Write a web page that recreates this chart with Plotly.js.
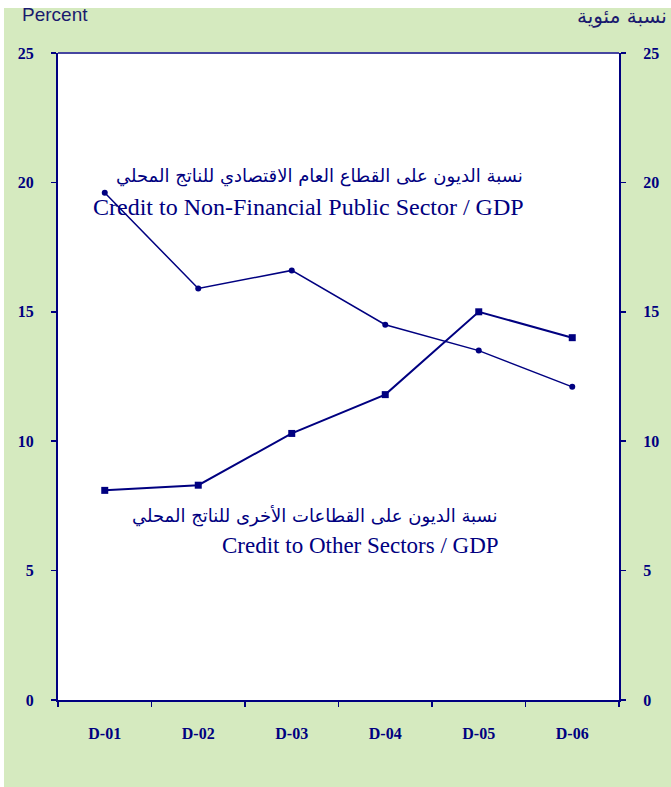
<!DOCTYPE html>
<html>
<head>
<meta charset="utf-8">
<script src="https://cdn.plot.ly/plotly-3.0.1.min.js"></script>
<style>html,body{margin:0;padding:0;background:#fff;}#chart{width:671px;height:787px;}</style>
</head>
<body>
<div id="chart"></div>
<script>
var categories = ["D-01", "D-02", "D-03", "D-04", "D-05", "D-06"];
var publicSector = [19.6, 15.9, 16.6, 14.5, 13.5, 12.1];
var otherSectors = [8.1, 8.3, 10.3, 11.8, 15.0, 14.0];
var yTicks = [0, 5, 10, 15, 20, 25];

var navy = "#000080";
var green = "#d5eabf";

var traces = [
  {
    x: categories, y: publicSector, type: "scatter", mode: "lines+markers",
    name: "Credit to Non-Financial Public Sector / GDP",
    line: {color: navy, width: 1.5},
    marker: {symbol: "circle", size: 6, color: navy},
    yaxis: "y", hoverinfo: "x+y"
  },
  {
    x: categories, y: otherSectors, type: "scatter", mode: "lines+markers",
    name: "Credit to Other Sectors / GDP",
    line: {color: navy, width: 2},
    marker: {symbol: "square", size: 7, color: navy},
    yaxis: "y2", hoverinfo: "x+y"
  }
];

var tickFont = {family: "Liberation Serif, Times New Roman, serif", size: 16, color: navy, weight: "bold"};

function px2x(p) { return (p - 58) / 561; }
function px2y(p) { return (700 - p) / 647; }

var layout = {
  width: 671, height: 787,
  margin: {l: 58, r: 52, t: 53, b: 87, pad: 0},
  paper_bgcolor: green,
  plot_bgcolor: "#ffffff",
  showlegend: false,
  xaxis: {
    type: "category", range: [-0.5, 5.5], fixedrange: true,
    tickson: "boundaries", ticks: "outside", ticklen: 5, tickwidth: 1.5, tickcolor: navy,
    showline: true, linecolor: navy, linewidth: 2,
    showgrid: false, zeroline: false,
    tickfont: tickFont, ticklabelstandoff: 18
  },
  yaxis: {
    range: [0, 25], tickvals: yTicks, ticktext: yTicks.map(String),
    ticks: "outside", ticklen: 5, tickwidth: 1.5, tickcolor: navy,
    showline: true, linecolor: navy, linewidth: 2,
    showgrid: false, zeroline: false,
    tickfont: tickFont, ticklabelstandoff: 14
  },
  yaxis2: {
    overlaying: "y", side: "right", anchor: "x",
    range: [0, 25], tickvals: yTicks, ticktext: yTicks.map(String),
    ticks: "outside", ticklen: 5, tickwidth: 1.5, tickcolor: navy,
    showline: true, linecolor: navy, linewidth: 2,
    showgrid: false, zeroline: false,
    tickfont: tickFont, ticklabelstandoff: 14
  },
  shapes: [
    {type: "rect", xref: "paper", yref: "paper", x0: px2x(-5), x1: px2x(680), y0: px2y(8), y1: px2y(-5),
     fillcolor: "#ffffff", line: {width: 0}, layer: "below"},
    {type: "rect", xref: "paper", yref: "paper", x0: px2x(-5), x1: px2x(4), y0: px2y(800), y1: px2y(-5),
     fillcolor: "#ffffff", line: {width: 0}, layer: "below"},
    {type: "line", xref: "paper", yref: "paper", x0: 0, x1: 1, y0: 1, y1: 1,
     line: {color: "#4646a0", width: 2}, layer: "above"}
  ],
  annotations: [
    {xref: "paper", yref: "paper", x: px2x(20), y: px2y(15), xanchor: "left", yanchor: "middle",
     text: "Percent", showarrow: false,
     font: {family: "Liberation Sans, Arial, sans-serif", size: 19, color: "#1a1a6e"}},
    {xref: "paper", yref: "paper", x: px2x(669), y: px2y(16), xanchor: "right", yanchor: "middle",
     text: "نسبة مئوية", showarrow: false,
     font: {family: "DejaVu Sans, sans-serif", size: 20, color: "#1a1a6e"}},
    {xref: "paper", yref: "paper", x: px2x(525), y: px2y(176), xanchor: "right", yanchor: "middle",
     text: "نسبة الديون على القطاع العام الاقتصادي للناتج المحلي", showarrow: false,
     font: {family: "DejaVu Sans, sans-serif", size: 18, color: navy}},
    {xref: "paper", yref: "paper", x: px2x(526), y: px2y(207), xanchor: "right", yanchor: "middle",
     text: "Credit to Non-Financial Public Sector / GDP", showarrow: false,
     font: {family: "Liberation Serif, Times New Roman, serif", size: 24, color: navy}},
    {xref: "paper", yref: "paper", x: px2x(500), y: px2y(516), xanchor: "right", yanchor: "middle",
     text: "نسبة الديون على القطاعات الأخرى للناتج المحلي", showarrow: false,
     font: {family: "DejaVu Sans, sans-serif", size: 18, color: navy}},
    {xref: "paper", yref: "paper", x: px2x(501), y: px2y(545), xanchor: "right", yanchor: "middle",
     text: "Credit to Other Sectors / GDP", showarrow: false,
     font: {family: "Liberation Serif, Times New Roman, serif", size: 23, color: navy}}
  ]
};

Plotly.newPlot("chart", traces, layout, {displayModeBar: false, staticPlot: true});
</script>
</body>
</html>
